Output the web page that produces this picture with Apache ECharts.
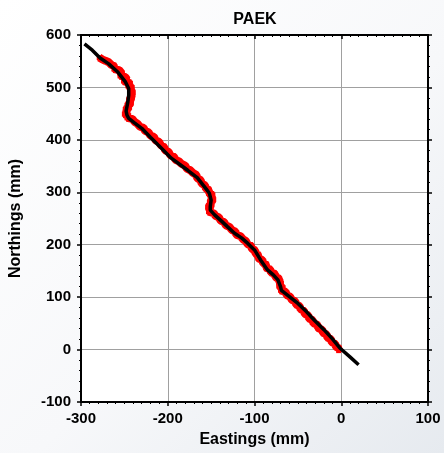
<!DOCTYPE html>
<html><head><meta charset="utf-8">
<script src="https://cdn.jsdelivr.net/npm/echarts@6/dist/echarts.min.js"></script>
<style>html,body{margin:0;padding:0;}#c{width:444px;height:453px;}</style>
</head><body><div id="c"></div>
<script>
var titleText = 'PAEK';
var xName = 'Eastings (mm)';
var yName = 'Northings (mm)';
var xTicks = [-300, -200, -100, 0, 100];
var yTicks = [-100, 0, 100, 200, 300, 400, 500, 600];

// black smoothed track
var lineX = [-296,-287,-278,-268,-258,-249,-245,-245,-246,-248,-247,-245,-238,-230,-220,-211,-203,-196,-186,-177,-166,-156,-152,-150,-151,-151,-146,-138,-131,-123,-115,-108,-100,-93,-85,-78,-73,-70,-69,-62,-50,-40,-31,-20,-10,-1,10,20];
var lineY = [583,571,556,545,530,511,498,485,472,455,447,441,432,422,405,390,377,365,353,342,328,307,298,285,273,266,257,245,234,222,213,203,190,171,152,142,133,120,113,104,88,72,56,38,20,2,-14,-29];

// red raw observations
var obsX = [-279,-275,-272,-268,-265,-261,-262,-256,-253,-255,-249,-247,-251,-243,-246,-241,-244,-240,-243,-241,-245,-242,-247,-244,-249,-246,-250,-245,-247,-241,-238,-235,-232,-228,-226,-222,-220,-216,-214,-210,-208,-204,-203,-199,-197,-193,-191,-187,-184,-180,-178,-174,-171,-167,-166,-162,-161,-157,-156,-152,-153,-148,-151,-147,-152,-149,-154,-150,-153,-147,-145,-141,-139,-135,-133,-129,-126,-122,-121,-116,-113,-110,-108,-104,-103,-99,-99,-95,-96,-91,-90,-86,-87,-82,-81,-76,-76,-71,-72,-69,-72,-67,-70,-64,-63,-59,-57,-53,-52,-48,-47,-43,-42,-38,-37,-33,-32,-27,-27,-22,-21,-17,-16,-12,-11,-7,-6,-2,-3];
var obsY = [557,553,551,548,543,540,535,533,527,522,520,515,512,508,503,500,495,490,486,480,476,470,466,462,458,453,449,446,442,440,434,431,425,423,417,414,408,406,399,396,390,386,380,377,371,368,362,359,354,351,345,342,337,333,327,323,317,313,307,304,298,295,290,286,281,276,272,267,263,260,255,252,246,243,237,234,228,225,219,216,210,207,201,198,192,189,183,180,174,171,165,162,156,153,147,144,138,135,129,126,121,118,113,110,104,101,95,92,86,83,77,74,68,65,59,56,50,47,41,38,32,29,23,20,14,11,5,2,-2];

function pairs(xs, ys){ var r=[]; for (var i=0;i<xs.length;i++) r.push([xs[i], ys[i]]); return r; }

var font = 'Liberation Sans, Arial, sans-serif';
var chart = echarts.init(document.getElementById('c'));
var axisLine = {show:true, onZero:false, lineStyle:{color:'#000', width:2}};
var lbl = {fontFamily:font, fontSize:15, fontWeight:'bold', color:'#000'};
chart.setOption({
  animation:false,
  backgroundColor: {type:'linear', x:0, y:0, x2:1, y2:1, colorStops:[{offset:0,color:'#ffffff'},{offset:0.55,color:'#f7f8fa'},{offset:1,color:'#e6eaef'}]},
  title:{text:titleText, left:250, top:7, textAlign:'center', textStyle:{fontFamily:font, fontSize:16, fontWeight:'bold', color:'#000'}},
  grid:{left:79, right:16, top:35, bottom:51, show:true, backgroundColor:'#fff', borderWidth:0},
  xAxis:[{
    type:'value', min:-300, max:100, interval:100, position:'bottom',
    name:xName, nameLocation:'middle', nameGap:30,
    nameTextStyle:{fontFamily:font, fontSize:16, fontWeight:'bold', color:'#000'},
    axisLine:axisLine,
    axisTick:{show:true, inside:false, length:4, lineStyle:{color:'#000', width:1.5}},
    minorTick:{show:true, splitNumber:10, length:2, lineStyle:{color:'#000', width:1}},
    axisLabel:Object.assign({margin:9, formatter:function(v){ return xTicks.indexOf(v)>=0 ? String(v) : ''; }}, lbl),
    splitLine:{show:true, lineStyle:{color:'#a0a0a0', width:1}}
  },{
    type:'value', min:-300, max:100, interval:100, position:'top',
    axisLine:axisLine,
    axisTick:{show:true, inside:true, length:4, lineStyle:{color:'#000', width:1.5}},
    minorTick:{show:true, splitNumber:10, length:2, lineStyle:{color:'#000', width:1}},
    axisLabel:{show:false}, splitLine:{show:false}
  }],
  yAxis:[{
    type:'value', min:-100, max:600, interval:100, position:'left',
    name:yName, nameLocation:'middle', nameGap:57, nameRotate:90,
    nameTextStyle:{fontFamily:font, fontSize:16, fontWeight:'bold', color:'#000'},
    axisLine:axisLine,
    axisTick:{show:true, inside:false, length:4, lineStyle:{color:'#000', width:1.5}},
    minorTick:{show:true, splitNumber:5, length:2, lineStyle:{color:'#000', width:1}},
    axisLabel:Object.assign({margin:10, formatter:function(v){ return yTicks.indexOf(v)>=0 ? String(v) : ''; }}, lbl),
    splitLine:{show:true, lineStyle:{color:'#a0a0a0', width:1}}
  },{
    type:'value', min:-100, max:600, interval:100, position:'right',
    axisLine:axisLine,
    axisTick:{show:true, inside:false, length:4, lineStyle:{color:'#000', width:1.5}},
    minorTick:{show:true, splitNumber:5, length:2, lineStyle:{color:'#000', width:1}},
    axisLabel:{show:false}, splitLine:{show:false}
  }],
  series:[{
    type:'line', xAxisIndex:0, yAxisIndex:0, data:pairs(obsX, obsY), z:2,
    showSymbol:true, symbol:'rect', symbolSize:5,
    itemStyle:{color:'#ff0000'}, lineStyle:{color:'#ff0000', width:8}, silent:true
  },{
    type:'line', xAxisIndex:0, yAxisIndex:0, data:pairs(lineX, lineY), z:5,
    showSymbol:false, lineStyle:{color:'#000', width:3.5}, silent:true
  }]
});
</script></body></html>
